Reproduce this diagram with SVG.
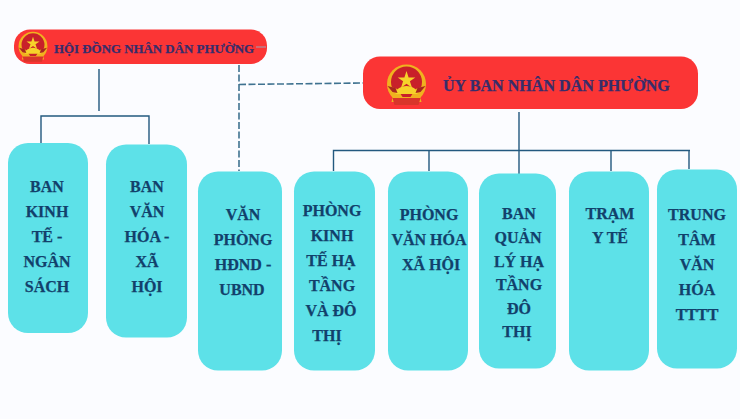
<svg xmlns="http://www.w3.org/2000/svg" width="740" height="419" viewBox="0 0 740 419">
<style>
.box{fill:#5de1e8}
.red{fill:#fb3535}
.t{font-family:"Liberation Serif","DejaVu Serif",serif;font-weight:700;font-size:16px;fill:#12406b;stroke:#12406b;stroke-width:.25px;text-anchor:middle}
.h{font-family:"Liberation Serif","DejaVu Serif",serif;font-weight:700;fill:#372d6b;stroke:#372d6b;stroke-width:.25px}
.c{fill:none;stroke:#23597f;stroke-width:1.4}
.d{fill:none;stroke:#3f7290;stroke-width:1.6;stroke-dasharray:7 2.5}
</style>
<defs>
<g id="emblem">
<circle cx="0" cy="-1" r="19.5" fill="#f0b21f"/>
<circle cx="0" cy="-3" r="15.5" fill="#c8202a"/>
<polygon points="0,-14 2.1,-7.6 8.8,-7.6 3.4,-3.7 5.5,2.7 0,-1.2 -5.500,2.7 -3.400,-3.700 -8.800,-7.600 -2.100,-7.600" fill="#f6d32a"/>
<path d="M-19,1 L-9,4 L-4,12 L4,12 L9,4 L19,1 L13,9 L15,17 L-15,17 L-13,9 Z" fill="#f0b21f"/>
<path d="M-11,9 A11,8 0 0 1 11,9 Z" fill="#f6d32a"/>
<path d="M-19,1 L-11,3 L-9,8 L-14,7 Z M19,1 L11,3 L9,8 L14,7 Z" fill="#a8261f"/>
<path d="M-14,13 H14 L12,20 H-12 Z" fill="#d9352a"/>
</g>
</defs>
<rect width="740" height="419" fill="#fbfcff"/>
<g id="connectors">
<path class="c" d="M99 69V111M41 143V116H149V144"/>
<path class="c" d="M519 112V174M333.500 171V150.500H690M429 150.500V171M611 150.500V171M689 150.500V169"/>
<path class="d" d="M239 65V171M239 84.500L363 83"/>
</g>
<g id="n-hdnd">
<rect class="red" x="14" y="29.500" width="253" height="34.500" rx="16"/>
<use href="#emblem" transform="translate(33 47) scale(.74)"/>
<text class="h" x="54" y="53" font-size="12.900">HỘI ĐỒNG NHÂN DÂN PHƯỜNG</text>
<path d="M256 47H266" stroke="#b9808f" stroke-width="1.500"/>
</g>
<g id="n-ubnd">
<rect class="red" x="363" y="56.500" width="335" height="52.500" rx="17"/>
<use href="#emblem" transform="translate(406.500 85)"/>
<text class="h" x="443" y="91" font-size="16.100">ỦY BAN NHÂN DÂN PHƯỜNG</text>
</g>
<g id="n1"><rect class="box" x="8" y="143" width="80" height="190" rx="20"/>
<text class="t"><tspan x="47" y="192">BAN</tspan><tspan x="47" y="217">KINH</tspan><tspan x="47" y="242">TẾ -</tspan><tspan x="47" y="267">NGÂN</tspan><tspan x="47" y="292">SÁCH</tspan></text></g>
<g id="n2"><rect class="box" x="106" y="144.500" width="81" height="193" rx="20"/>
<text class="t"><tspan x="147" y="192">BAN</tspan><tspan x="147" y="217">VĂN</tspan><tspan x="147" y="242">HÓA -</tspan><tspan x="147" y="267">XÃ</tspan><tspan x="147" y="292">HỘI</tspan></text></g>
<g id="n3"><rect class="box" x="198" y="171.500" width="84" height="199" rx="20"/>
<text class="t"><tspan x="243" y="220">VĂN</tspan><tspan x="243" y="245">PHÒNG</tspan><tspan x="243" y="270">HĐND -</tspan><tspan x="242" y="295">UBND</tspan></text></g>
<g id="n4"><rect class="box" x="294" y="171.500" width="81" height="199" rx="20"/>
<text class="t"><tspan x="332" y="216">PHÒNG</tspan><tspan x="332" y="241">KINH</tspan><tspan x="331" y="266">TẾ HẠ</tspan><tspan x="332" y="291">TẦNG</tspan><tspan x="331" y="316">VÀ ĐÔ</tspan><tspan x="327" y="341">THỊ</tspan></text></g>
<g id="n5"><rect class="box" x="388" y="171.500" width="80" height="199" rx="20"/>
<text class="t"><tspan x="429" y="220">PHÒNG</tspan><tspan x="429" y="245">VĂN HÓA</tspan><tspan x="431" y="270">XÃ HỘI</tspan></text></g>
<g id="n6"><rect class="box" x="479" y="173.500" width="77" height="195" rx="20"/>
<text class="t"><tspan x="519" y="219">BAN</tspan><tspan x="518" y="243">QUẢN</tspan><tspan x="519" y="267">LÝ HẠ</tspan><tspan x="519" y="290">TẦNG</tspan><tspan x="519" y="314">ĐÔ</tspan><tspan x="517" y="337">THỊ</tspan></text></g>
<g id="n7"><rect class="box" x="569" y="171.500" width="80" height="199" rx="20"/>
<text class="t"><tspan x="610" y="219">TRẠM</tspan><tspan x="610" y="243">Y TẾ</tspan></text></g>
<g id="n8"><rect class="box" x="657" y="169.500" width="80" height="199" rx="20"/>
<text class="t"><tspan x="697" y="220">TRUNG</tspan><tspan x="697" y="245">TÂM</tspan><tspan x="697" y="270">VĂN</tspan><tspan x="697" y="295">HÓA</tspan><tspan x="697" y="320">TTTT</tspan></text></g>
</svg>
